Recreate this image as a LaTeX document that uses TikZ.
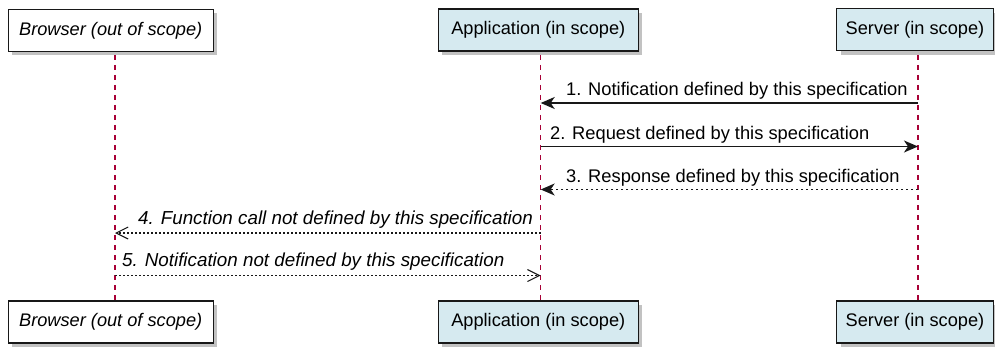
\documentclass[tikz,border=0pt]{standalone}
\usepackage{fontspec}
\setmainfont{Liberation Sans}
\usetikzlibrary{arrows.meta,shadows,calc}
\definecolor{partfill}{RGB}{214,234,240}
\definecolor{lifeline}{RGB}{168,0,54}
\definecolor{border}{RGB}{24,24,24}
\tikzset{
  part/.style={draw=border, line width=1.4pt, minimum height=42pt, inner sep=0pt,
    font=\fontsize{18.2pt}{20pt}\selectfont,
    drop shadow={shadow xshift=4pt, shadow yshift=-4pt, opacity=0.4, fill=black!60}},
  inscope/.style={part, fill=partfill},
  outscope/.style={part, fill=white, font=\fontsize{18.2pt}{20pt}\selectfont\itshape},
  life/.style={draw=lifeline, line width=1.2pt, dash pattern=on 5pt off 5pt},
  msgsolid/.style={draw=border, line width=1.4pt, -{Stealth[length=14pt,width=12pt,inset=4pt]}},
  msgdash/.style={draw=border, line width=1.2pt, dash pattern=on 2.5pt off 2.5pt, -{Stealth[length=14pt,width=12pt,inset=4pt]}},
  msgopen/.style={draw=border, line width=1.1pt, dash pattern=on 2pt off 2pt, -{Straight Barb[length=12pt,width=12pt,line width=1.1pt]}},
  lbl/.style={anchor=base west, inner sep=0pt, font=\fontsize{18.3pt}{20pt}\selectfont},
  lbli/.style={lbl, font=\fontsize{18.8pt}{20pt}\selectfont\itshape},
}
\begin{document}
\begin{tikzpicture}[x=1pt,y=-1pt]
\useasboundingbox (0,0) rectangle (995,350);
% participants top
\node[outscope, minimum width=205pt] (brT) at (110.7,30.4) {Browser (out of scope)};
\node[inscope, minimum width=200pt] (apT) at (538.3,30.2) {Application (in scope)};
\node[inscope, minimum width=157pt] (svT) at (915,29.8) {Server (in scope)};
% participants bottom
\node[outscope, minimum width=205pt] (brB) at (110.7,321.8) {Browser (out of scope)};
\node[inscope, minimum width=200pt] (apB) at (538.3,321.8) {Application (in scope)};
\node[inscope, minimum width=157pt] (svB) at (915,321.8) {Server (in scope)};
% lifelines
\coordinate (brL1) at (115,55); \coordinate (brL2) at (115,300);
\coordinate (apL1) at (540.7,55); \coordinate (apL2) at (540.7,300);
\coordinate (svL1) at (918,55); \coordinate (svL2) at (918,300);
\draw[life] (brL1) -- (brL2);
\draw[life] (apL1) -- (apL2);
\draw[life] (svL1) -- (svL2);
% message endpoints
\coordinate (sv1) at (918,103); \coordinate (ap1) at (540.7,103);
\coordinate (ap2) at (540.7,146.5); \coordinate (sv2) at (918,146.5);
\coordinate (sv3) at (918,189.5); \coordinate (ap3) at (540.7,189.5);
\coordinate (ap4) at (540.7,233); \coordinate (br4) at (115,233);
\coordinate (br5) at (115,275.5); \coordinate (ap5) at (540.7,275.5);
\draw[msgsolid] (sv1) -- (ap1);
\draw[msgsolid] (ap2) -- (sv2);
\draw[msgdash] (sv3) -- (ap3);
\draw[msgopen] (ap4) -- (br4);
\draw[msgopen] (br5) -- (ap5);
% labels
\node[lbl] (l1) at (566,96) {1. Notification defined by this specification};
\node[lbl] (l2) at (550,139.5) {2. Request defined by this specification};
\node[lbl] (l3) at (566,182.5) {3. Response defined by this specification};
\node[lbli] (l4) at (138,224) {4. Function call not defined by this specification};
\node[lbli] (l5) at (122,266.5) {5. Notification not defined by this specification};
\end{tikzpicture}
\end{document}
